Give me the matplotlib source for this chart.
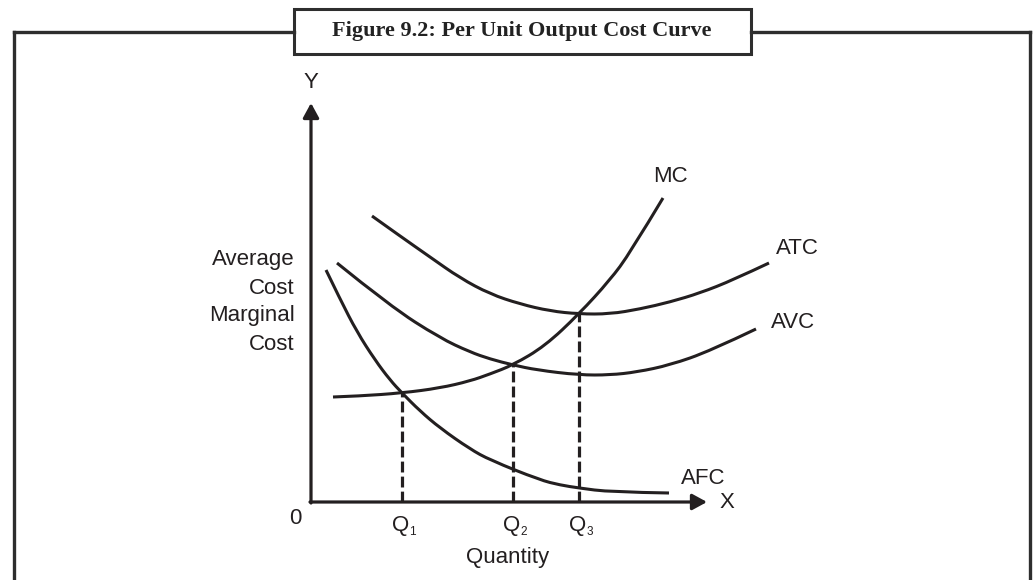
import matplotlib
matplotlib.use('Agg')
from matplotlib import pyplot as plt
from matplotlib.patches import Rectangle, PathPatch
from matplotlib.path import Path
from matplotlib.lines import Line2D

# quantity / cost readings (origin at 0, same units on both axes)
mc_q = [2.2, 4.9, 9.1, 12.9, 15.9, 17.9, 20.2, 23.4, 26.8, 29.9, 31.9, 35.2]
mc_c = [10.5, 10.6, 10.9, 11.4, 12.1, 12.8, 13.7, 15.6, 18.8, 22.2, 24.9, 30.4]

atc_q = [6.1, 8.9, 11.9, 14.9, 17.9, 20.9, 23.9, 26.8, 29.9, 32.9, 35.9, 38.9, 42.2, 45.8]
atc_c = [28.6, 26.6, 24.5, 22.4, 20.8, 19.8, 19.1, 18.8, 18.8, 19.3, 20.0, 20.9, 22.2, 23.9]

avc_q = [2.6, 7.9, 12.9, 15.9, 17.9, 20.2, 22.6, 26.8, 29.9, 32.6, 35.9, 39.9, 44.5]
avc_c = [23.9, 19.6, 16.4, 15.0, 14.3, 13.7, 13.2, 12.7, 12.7, 13.0, 13.7, 15.1, 17.3]

afc_q = [1.5, 2.9, 4.6, 6.4, 7.9, 9.1, 10.9, 12.9, 15.9, 17.9, 22.9, 24.9, 26.8, 29.9, 35.8]
afc_c = [23.2, 20.3, 17.0, 14.2, 12.2, 10.9, 9.1, 7.4, 5.3, 4.2, 2.2, 1.7, 1.4, 1.0, 0.9]

q_subs = ['1', '2', '3']
q_vals = [9.1, 20.2, 26.8]
q_tops = [10.9, 13.7, 18.8]

curve_names = ['MC', 'ATC', 'AVC', 'AFC']
y_label_lines = ['Average', 'Cost', 'Marginal', 'Cost']

plt.rcParams['font.family'] = ['Liberation Sans', 'DejaVu Sans']

W, H = 1034, 580
ink = '#231f20'
fig = plt.figure(figsize=(W / 100, H / 100), dpi=100)
fig.patch.set_facecolor('white')


def fx(x, y):
    return x / W, 1 - y / H


# outer frame and title box
frame = '#2e2e2e'
for xs, ys in [([14, 294], [32, 32]), ([751, 1030], [32, 32]),
               ([14, 14], [32, 580]), ([1030, 1030], [32, 580])]:
    p0, p1 = fx(xs[0], ys[0]), fx(xs[1], ys[1])
    fig.add_artist(Line2D([p0[0], p1[0]], [p0[1], p1[1]], color=frame, lw=2.4,
                          solid_capstyle='projecting'))
bx, by = fx(294, 54)
fig.add_artist(Rectangle((bx, by), (751 - 294) / W, (54 - 9) / H, transform=fig.transFigure,
                         facecolor='white', edgecolor=frame, lw=2.2))
tx, ty = fx(522, 31)
fig.text(tx, ty, 'Figure 9.2: Per Unit Output Cost Curve', ha='center', va='center',
         family='Liberation Serif', weight='bold', fontsize=16, color='#222222')

ax = fig.add_axes([0, 0, 1, 1])
ax.set_xlim(-31.1, 72.3)
ax.set_ylim(-7.8, 50.2)
ax.axis('off')

# axes with arrows
arrow = dict(arrowstyle='-|>,head_length=0.55,head_width=0.3', lw=2.3, color=ink,
             mutation_scale=16, shrinkA=0, shrinkB=0)
ax.annotate('', xy=(0, 39.9), xytext=(0, -0.1), arrowprops=arrow)
ax.annotate('', xy=(39.6, 0), xytext=(-0.1, 0), arrowprops=arrow)


def smooth_path(q, c):
    # quadratic bezier pieces: readings are control points, midpoints lie on the curve
    pts = list(zip(q, c))
    verts = [pts[0]]
    codes = [Path.MOVETO]
    for i in range(1, len(pts) - 1):
        mid = ((pts[i][0] + pts[i + 1][0]) / 2, (pts[i][1] + pts[i + 1][1]) / 2)
        if i == len(pts) - 2:
            mid = pts[-1]
        verts += [pts[i], mid]
        codes += [Path.CURVE3, Path.CURVE3]
    return Path(verts, codes)


curves = [(mc_q, mc_c), (atc_q, atc_c), (avc_q, avc_c), (afc_q, afc_c)]
for q, c in curves:
    ax.add_patch(PathPatch(smooth_path(q, c), facecolor='none', edgecolor=ink, lw=2.2,
                           capstyle='butt'))

for qv, top in zip(q_vals, q_tops):
    ax.plot([qv, qv], [0, top], color=ink, lw=2.3, ls=(0, (3.4, 1.3)))

fs = 16
label_pos = [(35.9, 32.6), (48.6, 25.4), (48.2, 18.0), (39.2, 2.4)]
for name, (x, y) in zip(curve_names, label_pos):
    ax.text(x, y, name, ha='center', va='center', fontsize=fs, color=ink)

for sub, qv in zip(q_subs, q_vals):
    ax.text(qv - 0.1, -2.3, 'Q', ha='center', va='center', fontsize=fs, color=ink)
    ax.text(qv + 0.75, -3.0, sub, ha='left', va='center', fontsize=8.5, color=ink)

ax.text(-1.6, -1.6, '0', ha='center', va='center', fontsize=fs, color=ink)
ax.text(0, 41.9, 'Y', ha='center', va='center', fontsize=fs, color=ink)
ax.text(41.6, -0.1, 'X', ha='center', va='center', fontsize=fs, color=ink)
ax.text(19.7, -5.6, 'Quantity', ha='center', va='center', fontsize=fs, color=ink)

for i, line in enumerate(y_label_lines):
    ax.text(-1.6, 24.2 - i * 2.8, line, ha='right', va='center', fontsize=fs, color=ink)

fig.savefig('out.png', dpi=100)
